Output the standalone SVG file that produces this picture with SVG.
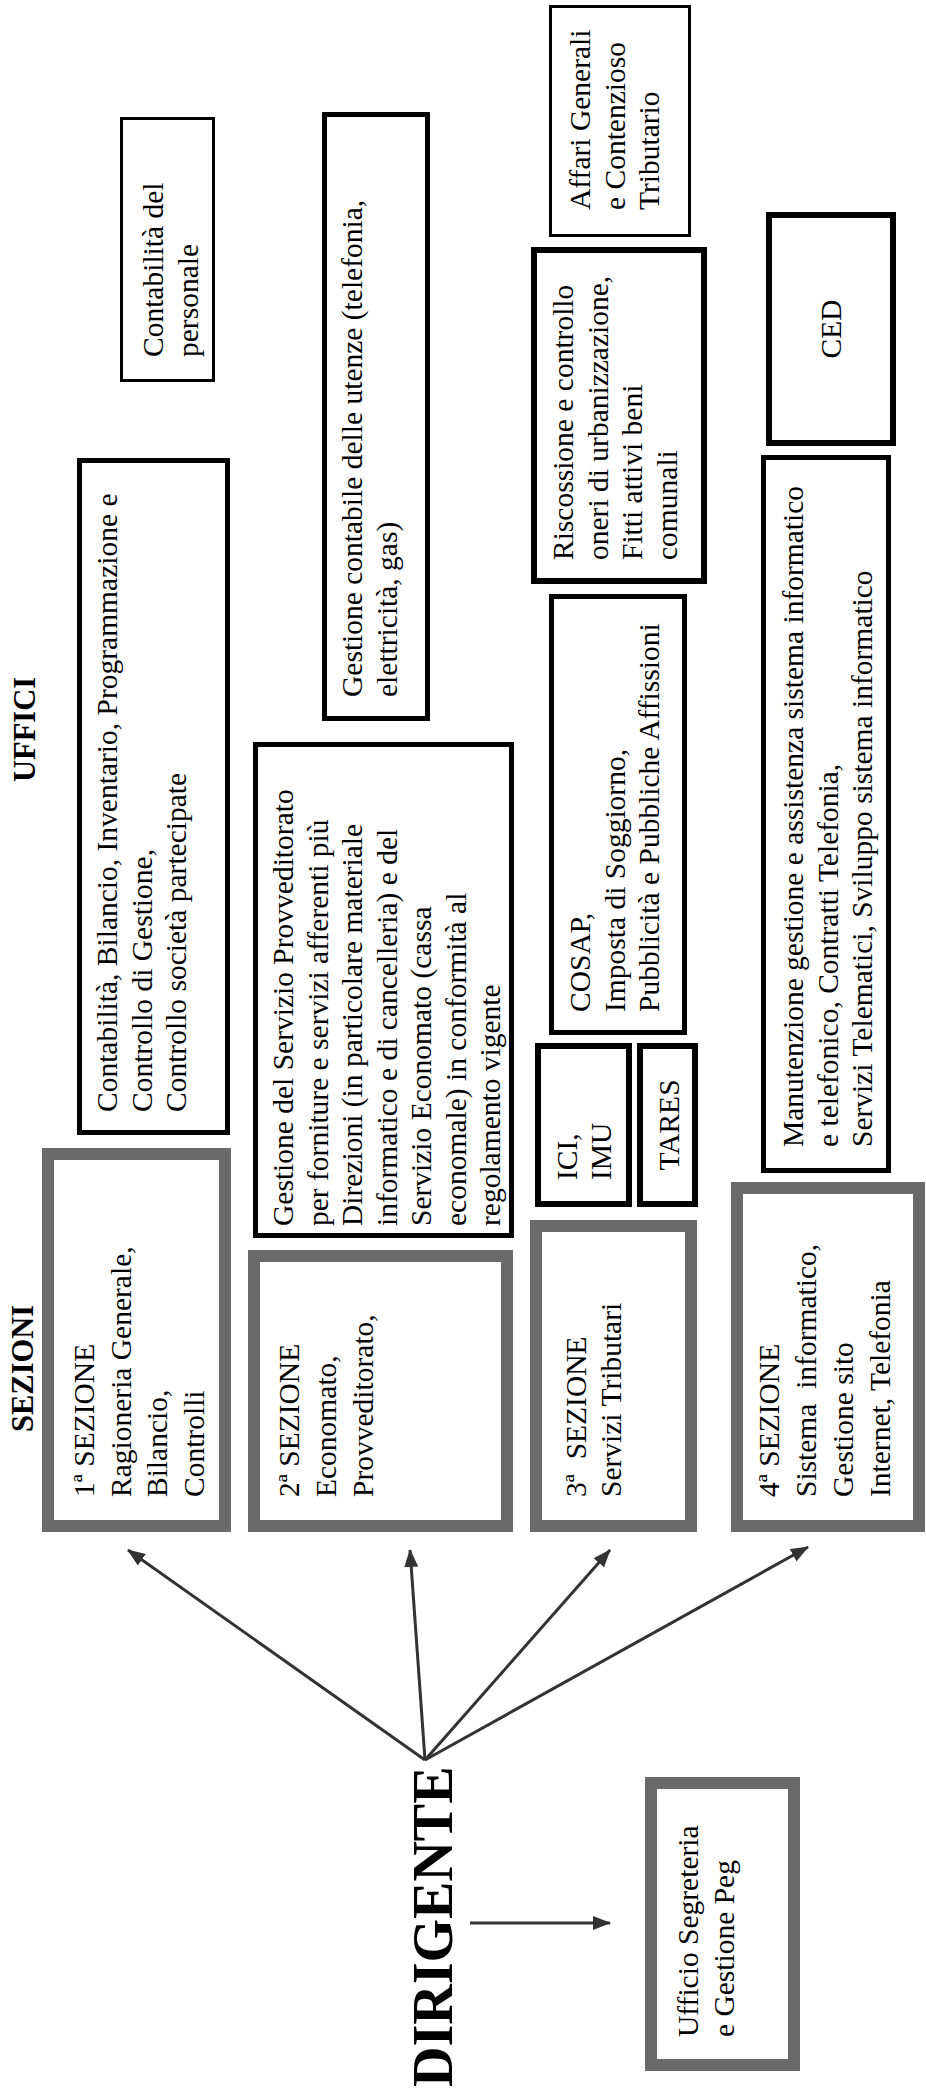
<svg xmlns="http://www.w3.org/2000/svg" width="926" height="2090" viewBox="0 0 926 2090">
<style>
.t{font-family:"Liberation Serif","Times New Roman",serif;font-size:29.5px;fill:#000}
.h{font-family:"Liberation Serif","Times New Roman",serif;font-size:30.5px;font-weight:bold;fill:#000}
.dir{font-family:"Liberation Serif","Times New Roman",serif;font-size:56px;font-weight:bold;fill:#000}
.b3{fill:#fff;stroke:#000;stroke-width:3}
.b5{fill:#fff;stroke:#000;stroke-width:5}
.b6{fill:#fff;stroke:#000;stroke-width:6}
.sec{fill:#fff;stroke:#6a6a6a;stroke-width:12}
.conn{stroke:#333;stroke-width:3;fill:none;marker-end:url(#ah)}
</style>
<defs>
<marker id="ah" markerUnits="userSpaceOnUse" markerWidth="18" markerHeight="14" refX="17" refY="7" orient="auto">
<path d="M0,0 L18,7 L0,14 z" fill="#333"/>
</marker>
</defs>
<rect x="0" y="0" width="926" height="2090" fill="#fff"/>

<g id="heading-uffici"><text class="h" transform="translate(0,782) rotate(-90)" x="0" y="35">UFFICI</text></g>
<g id="heading-sezioni"><text class="h" transform="translate(0,1432) rotate(-90)" x="0" y="33">SEZIONI</text></g>

<g id="n-contabilita-personale">
<rect class="b3" x="121.5" y="118.5" width="92" height="262"/>
<g transform="translate(0,357) rotate(-90)">
<text class="t" x="0" y="163">Contabilità del</text>
<text class="t" x="0" y="197.5">personale</text>
</g>
</g>

<g id="n-contabilita-bilancio">
<rect class="b5" x="79.5" y="460.5" width="148" height="672"/>
<g transform="translate(0,1112) rotate(-90)">
<text class="t" x="0" y="117">Contabilità, Bilancio, Inventario, Programmazione e</text>
<text class="t" x="0" y="151.5">Controllo di Gestione,</text>
<text class="t" x="0" y="186">Controllo società partecipate</text>
</g>
</g>

<g id="n-gestione-utenze">
<rect class="b5" x="324.5" y="114.5" width="103" height="604"/>
<g transform="translate(0,697) rotate(-90)">
<text class="t" x="0" y="362">Gestione contabile delle utenze (telefonia,</text>
<text class="t" x="0" y="396.5">elettricità, gas)</text>
</g>
</g>

<g id="n-gestione-provveditorato">
<rect class="b5" x="255.5" y="744.5" width="256" height="491"/>
<g transform="translate(0,1226) rotate(-90)">
<text class="t" x="0" y="293">Gestione del Servizio Provveditorato</text>
<text class="t" x="0" y="327.5">per forniture e servizi afferenti più</text>
<text class="t" x="0" y="362">Direzioni (in particolare materiale</text>
<text class="t" x="0" y="396.5">informatico e di cancelleria) e del</text>
<text class="t" x="0" y="431">Servizio Economato (cassa</text>
<text class="t" x="0" y="465.5">economale) in conformità al</text>
<text class="t" x="0" y="500">regolamento vigente</text>
</g>
</g>

<g id="n-affari-generali">
<rect class="b3" x="550.5" y="6.5" width="139" height="229"/>
<g transform="translate(0,210) rotate(-90)">
<text class="t" x="0" y="590">Affari Generali</text>
<text class="t" x="0" y="624.5">e Contenzioso</text>
<text class="t" x="0" y="659">Tributario</text>
</g>
</g>

<g id="n-riscossione">
<rect class="b6" x="534" y="250" width="170" height="331"/>
<g transform="translate(0,560) rotate(-90)">
<text class="t" x="0" y="573">Riscossione e controllo</text>
<text class="t" x="0" y="607.5">oneri di urbanizzazione,</text>
<text class="t" x="0" y="642">Fitti attivi beni</text>
<text class="t" x="0" y="676.5">comunali</text>
</g>
</g>

<g id="n-ced">
<rect class="b6" x="769" y="215" width="124" height="228"/>
<text class="t" transform="translate(0,329) rotate(-90)" x="0" y="841" text-anchor="middle">CED</text>
</g>

<g id="n-cosap">
<rect class="b5" x="551.5" y="596.5" width="133" height="436"/>
<g transform="translate(0,1012) rotate(-90)">
<text class="t" x="0" y="590">COSAP,</text>
<text class="t" x="0" y="624.5">Imposta di Soggiorno,</text>
<text class="t" x="0" y="659">Pubblicità e Pubbliche Affissioni</text>
</g>
</g>

<g id="n-ici-imu">
<rect class="b6" x="538" y="1046" width="91" height="158"/>
<g transform="translate(0,1180) rotate(-90)">
<text class="t" x="0" y="577">ICI,</text>
<text class="t" x="0" y="611">IMU</text>
</g>
</g>

<g id="n-tares">
<rect class="b6" x="640" y="1046" width="55" height="158"/>
<text class="t" transform="translate(0,1125) rotate(-90)" x="0" y="679" text-anchor="middle">TARES</text>
</g>

<g id="n-manutenzione">
<rect class="b5" x="763.5" y="457.5" width="125" height="713"/>
<g transform="translate(0,1147) rotate(-90)">
<text class="t" x="0" y="803">Manutenzione gestione e assistenza sistema informatico</text>
<text class="t" x="0" y="837.5">e telefonico, Contratti Telefonia,</text>
<text class="t" x="0" y="872">Servizi Telematici, Sviluppo sistema informatico</text>
</g>
</g>

<g id="n-sezione1">
<rect class="sec" x="48" y="1154" width="177" height="372"/>
<g transform="translate(0,1497) rotate(-90)">
<text class="t" x="0" y="94">1ª SEZIONE</text>
<text class="t" x="0" y="130.5">Ragioneria Generale,</text>
<text class="t" x="0" y="167">Bilancio,</text>
<text class="t" x="0" y="203.5">Controlli</text>
</g>
</g>

<g id="n-sezione2">
<rect class="sec" x="254" y="1256" width="253" height="270"/>
<g transform="translate(0,1497) rotate(-90)">
<text class="t" x="0" y="299">2ª SEZIONE</text>
<text class="t" x="0" y="336">Economato,</text>
<text class="t" x="0" y="373">Provveditorato,</text>
</g>
</g>

<g id="n-sezione3">
<rect class="sec" x="536" y="1226" width="155" height="300"/>
<g transform="translate(0,1497) rotate(-90)">
<text class="t" x="0" y="586" xml:space="preserve">3ª  SEZIONE</text>
<text class="t" x="0" y="621">Servizi Tributari</text>
</g>
</g>

<g id="n-sezione4">
<rect class="sec" x="737" y="1188" width="182" height="338"/>
<g transform="translate(0,1497) rotate(-90)">
<text class="t" x="0" y="779">4ª SEZIONE</text>
<text class="t" x="0" y="816" xml:space="preserve">Sistema  informatico,</text>
<text class="t" x="0" y="853">Gestione sito</text>
<text class="t" x="0" y="890">Internet, Telefonia</text>
</g>
</g>

<g id="n-ufficio-segreteria">
<rect class="sec" x="651" y="1783" width="143" height="282"/>
<g transform="translate(0,2037) rotate(-90)">
<text class="t" x="0" y="698">Ufficio Segreteria</text>
<text class="t" x="0" y="734">e Gestione Peg</text>
</g>
</g>

<g id="n-dirigente">
<text class="dir" transform="translate(0,2087) rotate(-90)" x="0" y="452">DIRIGENTE</text>
</g>

<g id="connectors">
<line class="conn" x1="425" y1="1760" x2="128" y2="1550"/>
<line class="conn" x1="425" y1="1760" x2="410" y2="1550"/>
<line class="conn" x1="425" y1="1760" x2="610" y2="1550"/>
<line class="conn" x1="425" y1="1760" x2="808" y2="1547"/>
<line class="conn" x1="470" y1="1923" x2="610" y2="1923"/>
</g>
</svg>
